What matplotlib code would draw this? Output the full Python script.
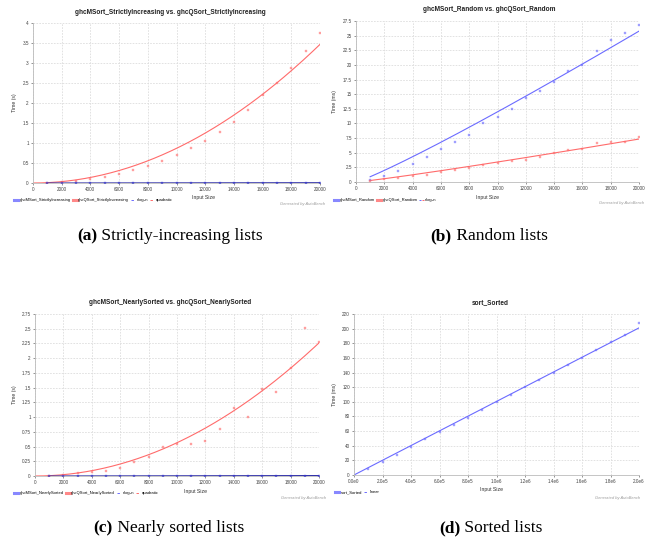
import numpy as np
import matplotlib
matplotlib.use('Agg')
import matplotlib.pyplot as plt
from matplotlib.lines import Line2D
from matplotlib.legend_handler import HandlerTuple
from matplotlib.ticker import MultipleLocator, FuncFormatter

W, H = 651, 542
plt.rcParams['font.family'] = ['Liberation Sans', 'DejaVu Sans']

# input sizes
sizes = [1000, 2000, 3000, 4000, 5000, 6000, 7000, 8000, 9000, 10000,
         11000, 12000, 13000, 14000, 15000, 16000, 17000, 18000, 19000, 20000]
sorted_sizes = [100000, 200000, 300000, 400000, 500000, 600000, 700000,
                800000, 900000, 1000000, 1100000, 1200000, 1300000, 1400000,
                1500000, 1600000, 1700000, 1800000, 1900000, 2000000]

# (a) strictly increasing, seconds
msort_inc = [0.0003, 0.0006, 0.001, 0.0013, 0.0017, 0.002, 0.0024, 0.0028, 0.0031, 0.0035,
             0.0039, 0.0043, 0.0047, 0.0051, 0.0055, 0.0059, 0.0063, 0.0067, 0.0071, 0.0075]
qsort_inc = [0.01, 0.02, 0.05, 0.10, 0.15, 0.23, 0.32, 0.42, 0.55, 0.70,
             0.87, 1.06, 1.28, 1.53, 1.82, 2.21, 2.49, 2.87, 3.30, 3.75]

# (b) random, milliseconds
msort_rand = [0.3, 1.0, 1.9, 3.0, 4.3, 5.6, 6.8, 8.1, 10.0, 11.1,
              12.4, 14.3, 15.5, 17.0, 18.9, 20.0, 22.3, 24.2, 25.4, 26.9]
qsort_rand = [0.1, 0.5, 0.75, 1.0, 1.25, 1.7, 2.0, 2.4, 2.9, 3.3,
              3.65, 3.8, 4.3, 4.9, 5.4, 5.6, 6.7, 6.9, 6.8, 7.7]

# (c) nearly sorted, seconds
msort_near = [0.0003, 0.0006, 0.001, 0.0013, 0.0017, 0.002, 0.0024, 0.0028, 0.0031, 0.0035,
              0.0039, 0.0043, 0.0047, 0.0051, 0.0055, 0.0059, 0.0063, 0.0067, 0.0071, 0.0075]
qsort_near = [0.005, 0.02, 0.045, 0.07, 0.09, 0.14, 0.23, 0.32, 0.49, 0.54,
              0.545, 0.6, 0.79, 1.16, 1.0, 1.48, 1.43, 1.84, 2.52, 2.28]

# (d) sorted, milliseconds
sort_sorted = [8.6, 17.3, 27.3, 37.7, 48.6, 58.2, 67.7, 77.7, 89.1, 99.1,
               110, 120.5, 130, 140, 150.5, 160.5, 170.5, 181.8, 191, 208]

BLUE = '#6b6bff'
RED = '#ff6b6b'
GRID = '#dddddd'


def axes_px(fig, l, t, r, b):
    ax = fig.add_axes([l / W, 1 - b / H, (r - l) / W, (b - t) / H])
    ax.px = (l, t, r, b)
    return ax


def text_px(fig, x, y, s, **kw):
    return fig.text(x / W, 1 - y / H, s, **kw)


def fit(x, y, f):
    # least squares fit of y = c * f(x)
    x = np.asarray(x, float)
    y = np.asarray(y, float)
    fx = f(x)
    return np.sum(y * fx) / np.sum(fx * fx)


def nlogn(x):
    return x * np.log2(x)


def quad(x):
    return x ** 2


def lin(x):
    return x


def style(ax, xmax, xstep, ymax, ystep, ylabel, ylab_x, xlab_x, xfmt=None):
    l, t, r, b = ax.px
    ax.set_xlim(0, xmax)
    ax.set_ylim(0, ymax)
    ax.xaxis.set_major_locator(MultipleLocator(xstep))
    ax.yaxis.set_major_locator(MultipleLocator(ystep))
    ax.yaxis.set_major_formatter(FuncFormatter(lambda v, p: '%g' % round(v, 4)))
    if xfmt is None:
        ax.xaxis.set_major_formatter(FuncFormatter(lambda v, p: '%d' % v))
    else:
        ax.xaxis.set_major_formatter(FuncFormatter(xfmt))
    ax.grid(True, color=GRID, linewidth=0.6, linestyle=(0, (2, 1.5)))
    ax.set_axisbelow(True)
    for s in ['top', 'right']:
        ax.spines[s].set_visible(False)
    for s in ['left', 'bottom']:
        ax.spines[s].set_color('#bbbbbb')
        ax.spines[s].set_linewidth(0.6)
    ax.tick_params(labelsize=3.3, colors='#444444', length=1.5, width=0.4, pad=1.5)
    ax.set_xlabel('Input Size', fontsize=3.7, color='#333333')
    ax.xaxis.set_label_coords((xlab_x - l) / (r - l), -12.5 / (b - t))
    ax.set_ylabel(ylabel, fontsize=3.7, color='#333333')
    ax.yaxis.set_label_coords((ylab_x - l) / (r - l), 0.5)


def sci(v, p):
    if v <= 0:
        return '0.0e0'
    e = int(np.floor(np.log10(v) + 1e-9))
    return '%.1fe%d' % (v / 10 ** e, e)


def series(ax, x, y, color):
    ax.plot(x, y, 's', color=color, markersize=1.9, alpha=0.55,
            markeredgewidth=0.3, zorder=3)


def fitline(ax, x0, x1, c, f, color):
    xs = np.linspace(x0, x1, 200)
    ax.plot(xs, c * f(xs), color=color, linewidth=0.8, zorder=2)


def legend(fig, x, y, handles, labels):
    fig.legend(handles, labels, loc='center left',
               bbox_to_anchor=(x / W, 1 - y / H), ncol=len(labels),
               frameon=False, fontsize=2.95, handlelength=1.0,
               handletextpad=0.35, columnspacing=0.5, borderpad=0,
               handler_map={tuple: HandlerTuple(ndivide=None, pad=0.3)})


def square(color):
    return Line2D([], [], color=color, linewidth=2.2, alpha=0.8)


def dash(color):
    return Line2D([], [], color=color, linewidth=0.7, linestyle=(0, (2.5, 2)))


def caption(fig, cx, cy, tag, rest):
    t1 = text_px(fig, 0, cy, tag, fontsize=12.5, fontweight='bold',
                 family='Liberation Serif', va='center')
    t2 = text_px(fig, 0, cy, ' ' + rest, fontsize=12.5,
                 family='Liberation Serif', va='center')
    r = fig.canvas.get_renderer()
    w1 = t1.get_window_extent(r).width
    w2 = t2.get_window_extent(r).width
    x0 = cx - (w1 + w2) / 2
    t1.set_x(x0 / W)
    t2.set_x((x0 + w1) / W)


def title(fig, x, y, s):
    text_px(fig, x, y, s, fontsize=4.7, fontweight='bold', color='#222222',
            ha='center', va='center')


def generated(fig, x, y):
    text_px(fig, x, y, 'Generated by AutoBench', fontsize=2.9, color='#999999',
            style='italic', ha='right', va='center')


fig = plt.figure(figsize=(W / 100, H / 100), dpi=100)

# (a)
ax = axes_px(fig, 33, 23, 320, 183)
style(ax, 20000, 2000, 4, 0.5, 'Time (s)', 17, 204)
fitline(ax, 0, 20000, fit(sizes, qsort_inc, quad), quad, RED)
fitline(ax, 1000, 20000, fit(sizes, msort_inc, nlogn), nlogn, '#3333aa')
series(ax, sizes, qsort_inc, RED)
series(ax, sizes, msort_inc, '#3333cc')
title(fig, 170, 12, 'ghcMSort_StrictlyIncreasing vs. ghcQSort_StrictlyIncreasing')
legend(fig, 12, 200,
       [square(BLUE), square(RED), dash(BLUE), dash(RED)],
       ['ghcMSort_StrictlyIncreasing', 'ghcQSort_StrictlyIncreasing', 'nlog₂n', 'quadratic'])
generated(fig, 325, 204)
caption(fig, 170, 236, '(a)', 'Strictly-increasing lists')

# (b)
ax = axes_px(fig, 356, 21, 639, 182)
style(ax, 20000, 2000, 27.5, 2.5, 'Time (ms)', 337, 488)
fitline(ax, 1000, 20000, fit(sizes, msort_rand, nlogn), nlogn, BLUE)
fitline(ax, 1000, 20000, fit(sizes, qsort_rand, nlogn), nlogn, RED)
series(ax, sizes, msort_rand, BLUE)
series(ax, sizes, qsort_rand, RED)
title(fig, 489, 9.5, 'ghcMSort_Random vs. ghcQSort_Random')
legend(fig, 332, 200,
       [square(BLUE), square(RED), (dash(BLUE), dash(RED))],
       ['ghcMSort_Random', 'ghcQSort_Random', 'nlog₂n'])
generated(fig, 644, 203)
caption(fig, 489, 236, '(b)', 'Random lists')

# (c)
ax = axes_px(fig, 35, 314, 319, 476)
style(ax, 20000, 2000, 2.75, 0.25, 'Time (s)', 17, 195)
fitline(ax, 0, 20000, fit(sizes, qsort_near, quad), quad, RED)
fitline(ax, 1000, 20000, fit(sizes, msort_near, nlogn), nlogn, '#3333aa')
series(ax, sizes, qsort_near, RED)
series(ax, sizes, msort_near, '#3333cc')
title(fig, 170, 303, 'ghcMSort_NearlySorted vs. ghcQSort_NearlySorted')
legend(fig, 12, 493,
       [square(BLUE), square(RED), dash(BLUE), dash(RED)],
       ['ghcMSort_NearlySorted', 'ghcQSort_NearlySorted', 'nlog₂n', 'quadratic'])
generated(fig, 326, 498)
caption(fig, 169, 528, '(c)', 'Nearly sorted lists')

# (d)
ax = axes_px(fig, 354, 314, 639, 475)
style(ax, 2000000, 200000, 220, 20, 'Time (ms)', 337, 491, xfmt=sci)
fitline(ax, 0, 2000000, fit(sorted_sizes, sort_sorted, lin), lin, BLUE)
series(ax, sorted_sizes, sort_sorted, BLUE)
title(fig, 490, 303, 'sort_Sorted')
legend(fig, 333, 492, [square(BLUE), dash(BLUE)], ['sort_Sorted', 'linear'])
generated(fig, 640, 498)
caption(fig, 491, 528, '(d)', 'Sorted lists')

fig.savefig('out.png', dpi=100)
